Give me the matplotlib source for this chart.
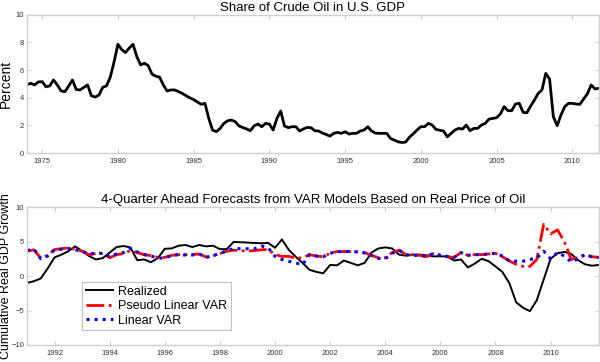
import numpy as np
import matplotlib
matplotlib.use("Agg")
import matplotlib.pyplot as plt

plt.rcParams['font.family'] = ['Liberation Sans', 'DejaVu Sans']

# share of crude oil in GDP, quarterly 1974Q1 - 2011Q4
oil_start = 1974
oil_share = [
    4.95, 5.05, 4.93, 5.15,  # 1974
    5.17, 4.80, 4.86, 5.29,  # 1975
    4.93, 4.50, 4.44, 4.85,  # 1976
    5.29, 4.60, 4.57, 4.75,  # 1977
    4.93, 4.15, 4.05, 4.20,  # 1978
    4.76, 4.86, 5.50, 6.60,  # 1979
    7.87, 7.50, 7.27, 7.60,  # 1980
    7.87, 6.98, 6.38, 6.50,  # 1981
    6.33, 5.72, 5.56, 5.50,  # 1982
    4.93, 4.49, 4.57, 4.57,  # 1983
    4.45, 4.32, 4.15, 4.00,  # 1984
    3.87, 3.70, 3.53, 3.60,  # 1985
    2.51, 1.67, 1.55, 1.79,  # 1986
    2.15, 2.34, 2.39, 2.27,  # 1987
    1.96, 1.85, 1.75, 1.62,  # 1988
    1.98, 2.10, 1.91, 2.15,  # 1989
    2.10, 1.67, 2.51, 3.04,  # 1990
    1.96, 1.84, 1.91, 1.91,  # 1991
    1.60, 1.75, 1.86, 1.84,  # 1992
    1.62, 1.60, 1.45, 1.35,  # 1993
    1.23, 1.43, 1.50, 1.43,  # 1994
    1.55, 1.38, 1.43, 1.43,  # 1995
    1.60, 1.67, 1.91, 1.60,  # 1996
    1.45, 1.43, 1.43, 1.43,  # 1997
    1.06, 0.94, 0.82, 0.77,  # 1998
    0.80, 1.15, 1.40, 1.67,  # 1999
    1.91, 1.91, 2.15, 2.03,  # 2000
    1.72, 1.65, 1.60, 1.18,  # 2001
    1.43, 1.67, 1.79, 1.74,  # 2002
    2.03, 1.62, 1.79, 1.79,  # 2003
    2.03, 2.15, 2.46, 2.51,  # 2004
    2.56, 2.83, 3.36, 3.07,  # 2005
    3.07, 3.55, 3.60, 2.95,  # 2006
    2.92, 3.40, 3.84, 4.32,  # 2007
    4.57, 5.77, 5.36, 2.63,  # 2008
    1.98, 2.75, 3.36, 3.60,  # 2009
    3.60, 3.55, 3.53, 3.91,  # 2010
    4.30, 4.93, 4.64, 4.69,  # 2011
]

# 4-quarter ahead GDP growth, quarterly 1991Q1 - 2011Q4
fc_start = 1991
realized = [
    -1.00, -0.75, -0.35, 1.10,
    2.70, 3.10, 3.60, 4.30,
    3.60, 2.90, 2.40, 2.60,
    3.40, 4.20, 4.35, 4.15,
    2.30, 2.40, 2.00, 2.60,
    3.95, 4.00, 4.40, 4.50,
    4.20, 4.50, 4.30, 4.40,
    3.90, 3.90, 4.95, 4.90,
    4.85, 4.80, 4.75, 4.80,
    4.10, 5.30, 3.80, 2.80,
    1.90, 0.90, 0.60, 0.40,
    1.60, 1.55, 2.25, 1.90,
    1.55, 1.90, 3.40, 4.00,
    4.15, 4.00, 3.10, 2.95,
    3.10, 3.10, 3.00, 2.85,
    2.85, 2.85, 2.25, 2.40,
    1.25, 1.80, 2.50, 2.15,
    1.40, 0.60, -1.00, -3.80,
    -4.60, -5.10, -3.50, -0.50,
    2.50, 3.30, 3.50, 3.20,
    2.30, 1.70, 1.50, 1.60,
]
pseudo_var = [
    3.60, 3.80, 2.60, 3.00,
    3.85, 3.95, 4.10, 3.85,
    3.60, 3.10, 3.25, 3.25,
    2.65, 3.10, 3.25, 3.70,
    3.40, 3.10, 2.95, 2.70,
    2.70, 3.00, 3.10, 3.10,
    3.10, 3.20, 2.75, 2.95,
    3.25, 3.60, 3.75, 3.70,
    3.60, 3.70, 3.80, 3.85,
    3.10, 2.85, 2.85, 2.60,
    2.65, 3.10, 2.90, 2.80,
    3.30, 3.55, 3.55, 3.55,
    3.50, 3.40, 3.00, 2.65,
    2.65, 3.40, 3.75, 3.10,
    3.05, 3.00, 2.80, 3.25,
    3.00, 2.80, 2.70, 3.40,
    3.00, 3.10, 3.10, 3.20,
    3.30, 2.80, 2.20, 1.70,
    1.40, 1.40, 2.40, 7.50,
    6.10, 6.70, 5.00, 2.40,
    2.70, 3.10, 2.80, 2.70,
]
linear_var = [
    3.70, 3.90, 2.50, 2.90,
    3.80, 3.90, 4.00, 3.80,
    3.60, 3.20, 3.30, 3.30,
    2.80, 3.20, 3.40, 4.00,
    3.50, 3.10, 2.90, 2.60,
    2.60, 3.00, 3.10, 3.05,
    3.05, 3.20, 2.70, 2.95,
    3.30, 3.65, 4.00, 3.95,
    3.95, 3.95, 4.35, 4.10,
    2.85, 2.40, 2.15, 1.90,
    1.65, 3.10, 2.90, 2.80,
    3.30, 3.55, 3.55, 3.55,
    3.50, 3.35, 3.00, 2.55,
    2.50, 3.30, 3.75, 3.10,
    3.00, 3.00, 2.85, 3.25,
    3.00, 2.85, 2.70, 3.40,
    3.00, 3.10, 3.10, 3.20,
    3.30, 2.90, 2.20, 2.15,
    2.15, 2.40, 2.60, 3.60,
    2.50, 3.40, 2.90, 2.05,
    2.50, 3.10, 2.80, 2.70,
]

oil_t = oil_start + np.arange(len(oil_share)) / 4.0
fc_t = fc_start + np.arange(len(realized)) / 4.0


def style_axes(ax):
    for sp in ax.spines.values():
        sp.set_color('#d0d0d0')
        sp.set_linewidth(1.0)
    ax.tick_params(direction='in', length=3, width=0.8, color='#d0d0d0',
                   labelsize=5.5, labelcolor='#333333',
                   top=True, right=True)
    ax.tick_params(axis='y', pad=2)


fig = plt.figure(figsize=(6.0, 3.62), dpi=100)

ax1 = fig.add_axes([0.045, 0.577, 0.953, 0.382])
ax1.plot(oil_t, oil_share, color='black', lw=2.0)
ax1.set_xlim(1974, 2011.75)
ax1.set_ylim(0, 10)
ax1.set_xticks([1975, 1980, 1985, 1990, 1995, 2000, 2005, 2010])
ax1.set_yticks([0, 2, 4, 6, 8, 10])
ax1.set_title('Share of Crude Oil in U.S. GDP', fontsize=9.5, pad=3)
ax1.set_ylabel('Percent', fontsize=10)
ax1.yaxis.set_label_coords(-0.024, 0.5)
style_axes(ax1)

ax2 = fig.add_axes([0.045, 0.047, 0.953, 0.381])
ax2.plot(fc_t, realized, color='black', lw=1.4, label='Realized')
ax2.plot(fc_t, pseudo_var, color='red', lw=2.0, ls='-.',
         label='Pseudo Linear VAR')
ax2.plot(fc_t, linear_var, color='blue', lw=2.2, ls=':',
         label='Linear VAR')
ax2.set_xlim(1991, 2011.75)
ax2.set_ylim(-10, 10)
ax2.set_xticks(list(range(1992, 2011, 2)))
ax2.set_yticks([-10, -5, 0, 5, 10])
ax2.set_title('4-Quarter Ahead Forecasts from VAR Models Based on Real Price of Oil',
              fontsize=9.5, pad=3)
ax2.set_ylabel('Cumulative Real GDP Growth', fontsize=9)
ax2.yaxis.set_label_coords(-0.027, 0.5)
style_axes(ax2)
leg = ax2.legend(loc='lower left', bbox_to_anchor=(0.085, 0.06),
                 fontsize=9, fancybox=False, framealpha=1,
                 handlelength=2.2, borderpad=0.3, labelspacing=0.2,
                 handletextpad=0.4)
leg.get_frame().set_edgecolor('#c0c0c0')
leg.get_frame().set_linewidth(0.8)

fig.savefig('out.png', dpi=100)
